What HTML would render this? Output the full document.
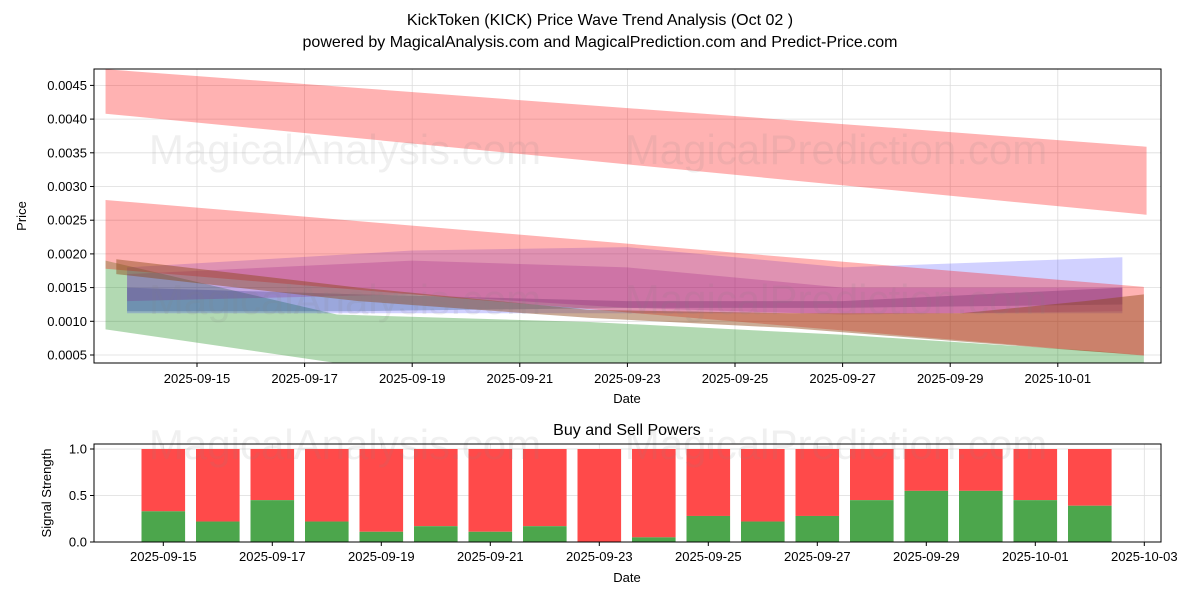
<!DOCTYPE html>
<html><head><meta charset="utf-8"><style>
html,body{margin:0;padding:0;background:#fff;}
svg{display:block;font-family:"Liberation Sans","DejaVu Sans",sans-serif;}
</style></head><body>
<svg id="c" width="1200" height="600" viewBox="0 0 1200 600">
<text x="600" y="25" text-anchor="middle" font-size="16">KickToken (KICK) Price Wave Trend Analysis (Oct 02 )</text>
<text x="600" y="47" text-anchor="middle" font-size="16">powered by MagicalAnalysis.com and MagicalPrediction.com and Predict-Price.com</text>
<g id="topchart"></g>
<g id="botchart"></g>
</svg>
<script>
// ---- data ----
const topTicks = [0.0005,0.0010,0.0015,0.0020,0.0025,0.0030,0.0035,0.0040,0.0045];
const topTickLabels = ["0.0005","0.0010","0.0015","0.0020","0.0025","0.0030","0.0035","0.0040","0.0045"];
const dateTicks = [0,2,4,6,8,10,12,14,16];
const dateTickLabels = ["2025-09-15","2025-09-17","2025-09-19","2025-09-21","2025-09-23","2025-09-25","2025-09-27","2025-09-29","2025-10-01"];
const botDateTicks = [0,2,4,6,8,10,12,14,16,18];
const botDateLabels = ["2025-09-15","2025-09-17","2025-09-19","2025-09-21","2025-09-23","2025-09-25","2025-09-27","2025-09-29","2025-10-01","2025-10-03"];
const barDays = [0,1,2,3,4,5,6,7,8,9,10,11,12,13,14,15,16,17];
const buyPower = [0.33,0.22,0.45,0.22,0.11,0.17,0.11,0.17,0.0,0.05,0.28,0.22,0.28,0.45,0.55,0.55,0.45,0.39];
const sigTicks = [0,0.5,1.0];
const sigTickLabels = ["0.0","0.5","1.0"];
const redTopDays = [-1.7,17.65], redTopUpper = [0.00474,0.00359], redTopLower = [0.00408,0.00258];
const redMidDays = [-1.7,17.6], redMidUpper = [0.0028,0.00151], redMidLower = [0.00178,0.00049];
const greenDays = [-1.7,2.6,7.3,12,16.5,17.6], greenUpper = [0.0019,0.0011,0.00099,0.0008,0.00057,0.0005], greenLower = [0.00088,0.00038,0.0003,0.00025,0.0002,0.0002];
const blueDays = [-1.3,4,8,12,17.2], blueUpper = [0.0018,0.00205,0.0021,0.0018,0.00195], blueLower = [0.00112,0.00112,0.00112,0.00112,0.00112];
const purpleDays = [-1.3,4,8,12,17.2], purpleUpper = [0.0017,0.0019,0.0018,0.0015,0.0015], purpleLower = [0.0013,0.0014,0.0012,0.0011,0.00115];
const steelDays = [-1.3,3,8,12,17.2], steelUpper = [0.0015,0.0014,0.0013,0.0013,0.0015], steelLower = [0.00115,0.00115,0.0012,0.0012,0.00125];
const brownDays = [-1.5,3,7.3,11,14.2,16.5,17.6], brownUpper = [0.00192,0.0015,0.00117,0.00112,0.00112,0.0013,0.0014], brownLower = [0.0017,0.0013,0.00105,0.0009,0.0007,0.00056,0.0005];

const NS="http://www.w3.org/2000/svg";
function mk(tag,attrs,parent,txt){const e=document.createElementNS(NS,tag);for(const k in attrs)e.setAttribute(k,attrs[k]);if(txt!==undefined)e.textContent=txt;parent.appendChild(e);return e;}
function watermark(g,y){
  const a=mk('text',{x:345,y:y,'text-anchor':'middle','font-size':42,fill:'rgba(128,128,128,0.12)'},g,'MagicalAnalysis.com');
  
  
  const b=mk('text',{x:836,y:y,'text-anchor':'middle','font-size':42,fill:'rgba(128,128,128,0.12)'},g,'MagicalPrediction.com');
  
  
}

const T={l:94,r:1161,t:69,b:363};
const tx=d=>197+d*53.8;
const ty=v=>355-(v-0.0005)*67.4/0.001;
const topG=document.getElementById('topchart');
const defs=mk('defs',{},topG);
const cp=mk('clipPath',{id:'cpt'},defs);
mk('rect',{x:T.l,y:T.t,width:T.r-T.l,height:T.b-T.t},cp);
dateTicks.forEach(d=>{const l=mk('line',{x1:tx(d),x2:tx(d),y1:T.t,y2:T.b,stroke:'#ddd','stroke-width':0.8},topG);

});
topTicks.forEach(v=>{const l=mk('line',{x1:T.l,x2:T.r,y1:ty(v),y2:ty(v),stroke:'#ddd','stroke-width':0.8},topG);

});
const bandG=mk('g',{'clip-path':'url(#cpt)'},topG);
function band(days,up,lo,fill,name){
  let p=days.map((d,i)=>tx(d)+','+ty(up[i]));
  for(let i=days.length-1;i>=0;i--)p.push(tx(days[i])+','+ty(lo[i]));
  const e=mk('polygon',{points:p.join(' '),fill:fill},bandG);
  
  
}
band(redTopDays,redTopUpper,redTopLower,'rgba(255,0,0,0.3)','red-band-upper');
band(greenDays,greenUpper,greenLower,'rgba(0,128,0,0.3)','green-band');
band(blueDays,blueUpper,blueLower,'rgba(0,0,255,0.18)','blue-band');
band(steelDays,steelUpper,steelLower,'rgba(30,70,140,0.3)','steel-band');
band(redMidDays,redMidUpper,redMidLower,'rgba(255,0,0,0.3)','red-band-lower');
band(purpleDays,purpleUpper,purpleLower,'rgba(140,0,120,0.2)','purple-band');
band(brownDays,brownUpper,brownLower,'rgba(139,69,19,0.45)','brown-band');
watermark(topG,164);
watermark(topG,314);
mk('rect',{x:T.l,y:T.t,width:T.r-T.l,height:T.b-T.t,fill:'none',stroke:'#000','stroke-width':1},topG);
topTicks.forEach((v,i)=>{mk('line',{x1:T.l-4,x2:T.l,y1:ty(v),y2:ty(v),stroke:'#000'},topG);
const t=mk('text',{x:T.l-7,y:ty(v)+4.5,'text-anchor':'end','font-size':13},topG,topTickLabels[i]);

});
dateTicks.forEach((d,i)=>{mk('line',{x1:tx(d),x2:tx(d),y1:T.b,y2:T.b+4,stroke:'#000'},topG);
const t=mk('text',{x:tx(d),y:T.b+20,'text-anchor':'middle','font-size':13},topG,dateTickLabels[i]);

});
mk('text',{x:627,y:403,'text-anchor':'middle','font-size':13,},topG,'Date');
mk('text',{x:0,y:0,'text-anchor':'middle','font-size':13,transform:'translate(26,216) rotate(-90)',},topG,'Price');

const B={l:94,r:1161,t:444,b:542};
const bx=d=>163.3+d*54.5;
const by=v=>542-v*93;
const botG=document.getElementById('botchart');
botDateTicks.forEach(d=>{const l=mk('line',{x1:bx(d),x2:bx(d),y1:B.t,y2:B.b,stroke:'#ddd','stroke-width':0.8},botG);

});
sigTicks.forEach(v=>{const l=mk('line',{x1:B.l,x2:B.r,y1:by(v),y2:by(v),stroke:'#ddd','stroke-width':0.8},botG);

});
const bw=0.8*54.5;
barDays.forEach((d,i)=>{
  const s=mk('rect',{x:bx(d)-bw/2,y:by(1),width:bw,height:by(buyPower[i])-by(1),fill:'#ff4a4a'},botG);
  
  
  const b=mk('rect',{x:bx(d)-bw/2,y:by(buyPower[i]),width:bw,height:by(0)-by(buyPower[i]),fill:'#4ca64c'},botG);
  
  
});
watermark(botG,459);
mk('rect',{x:B.l,y:B.t,width:B.r-B.l,height:B.b-B.t,fill:'none',stroke:'#000','stroke-width':1},botG);
sigTicks.forEach((v,i)=>{mk('line',{x1:B.l-4,x2:B.l,y1:by(v),y2:by(v),stroke:'#000'},botG);
const t=mk('text',{x:B.l-7,y:by(v)+4.5,'text-anchor':'end','font-size':13},botG,sigTickLabels[i]);

});
botDateTicks.forEach((d,i)=>{mk('line',{x1:bx(d),x2:bx(d),y1:B.b,y2:B.b+4,stroke:'#000'},botG);
const t=mk('text',{x:bx(d),y:B.b+19,'text-anchor':'middle','font-size':13},botG,botDateLabels[i]);

});
mk('text',{x:627,y:435,'text-anchor':'middle','font-size':16,},botG,'Buy and Sell Powers');
mk('text',{x:627,y:582,'text-anchor':'middle','font-size':13,},botG,'Date');
mk('text',{x:0,y:0,'text-anchor':'middle','font-size':13,transform:'translate(51,493) rotate(-90)',},botG,'Signal Strength');
</script>
</body></html>
